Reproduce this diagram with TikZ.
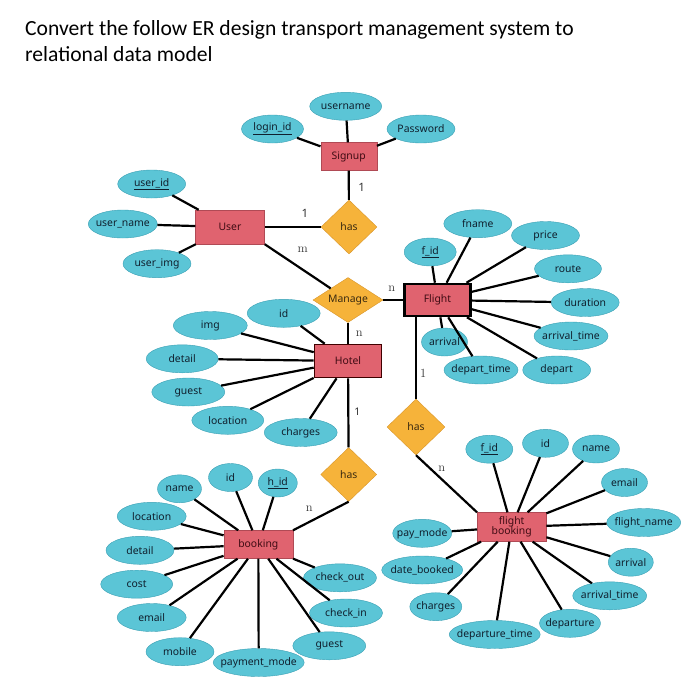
\documentclass[tikz,border=0pt]{standalone}
\usepackage{fontspec}
\usepackage{tikz}
\usetikzlibrary{shapes.geometric}
\newfontfamily\titlefont{Carlito}
\newfontfamily\erfont{Noto Sans}
\definecolor{attrfill}{HTML}{5BC5D6}
\definecolor{attrline}{HTML}{3A9FB3}
\definecolor{attrtext}{HTML}{10202E}
\definecolor{entfill}{HTML}{E0636F}
\definecolor{entline}{HTML}{B04A55}
\definecolor{enttext}{HTML}{400C14}
\definecolor{relfill}{HTML}{F6B33A}
\definecolor{relline}{HTML}{D8952A}
\definecolor{reltext}{HTML}{3A2A10}
\begin{document}
\begin{tikzpicture}[x=1pt,y=-1pt]
\tikzstyle{attr} = [draw=attrline, fill=attrfill, ellipse, minimum width=70, minimum height=28, inner xsep=-6pt, inner ysep=0pt, font=\erfont\fontsize{10.4}{12}\selectfont, text=attrtext] % attribute ellipse
\tikzstyle{entity} = [draw=entline, fill=entfill, rectangle, minimum width=69, minimum height=28, inner sep=1pt, font=\erfont\fontsize{10.4}{12}\selectfont, text=enttext] % entity box
\tikzstyle{rel} = [draw=relline, fill=relfill, diamond, aspect=1, minimum width=56, minimum height=54, inner sep=0pt, font=\erfont\fontsize{10.4}{12}\selectfont, text=reltext] % relationship diamond
\tikzstyle{link} = [line width=2.2pt, color=black] % connector line
\tikzstyle{card} = [inner sep=0pt, font=\fontsize{12.5}{14}\selectfont, text=black!80] % cardinality (serif)
\tikzstyle{cardsf} = [inner sep=0pt, font=\erfont\fontsize{11.5}{13}\selectfont, text=black!80] % cardinality (sans)
\useasboundingbox (0,0) rectangle (700,699);
% title
\node(title1)[anchor=base west, inner sep=0pt, font=\titlefont\fontsize{21.6}{25}\selectfont] at (25,35){Convert the follow ER design transport management system to};
\node(title2)[anchor=base west, inner sep=0pt, font=\titlefont\fontsize{21.6}{25}\selectfont] at (25,61){relational data model};
% entities and relationships
\node(signup)[entity, minimum width=56] at (348.7,156.5){Signup};
\node(user)[entity, minimum height=34] at (230,227){User};
\node(flight)[entity, draw=black, line width=2.6pt, minimum width=66, minimum height=32] at (437.5,300){Flight};
\node(hotel)[entity, draw=black!75!red, line width=1.6pt, minimum width=67, minimum height=33] at (348,361){Hotel};
\node(booking)[entity] at (258.3,544.5){booking};
\node(fbook)[entity, minimum height=29, inner sep=0pt, align=center] at (511.7,527){flight\\[-1.5pt]booking};
\node(hassignup)[rel] at (349,227){has};
\node(manage)[rel, aspect=1.6, minimum width=70, minimum height=45] at (348,300){Manage};
\node(hashotel)[rel] at (348.7,474.5){has};
\node(hasflight)[rel, minimum width=58, minimum height=56] at (416,427){has};
% Signup attributes
\node(username)[attr, minimum width=72] at (345.7,106.3){username};
\node(loginid)[attr, minimum width=62] at (272.5,129){\underline{login\_id}};
\node(password)[attr, minimum width=68] at (421,129){Password};
% User attributes
\node(userid)[attr, minimum width=68] at (151.7,184){\underline{user\_id}};
\node(username2)[attr, minimum width=69] at (122.8,224){user\_name};
\node(userimg)[attr, minimum width=68] at (157,263.7){user\_img};
% Flight attributes
\node(fname)[attr, minimum width=68] at (477.8,223.7){fname};
\node(price)[attr, minimum width=68] at (545.5,235.5){price};
\node(fid)[attr, minimum width=52] at (430.2,252){\underline{f\_id}};
\node(route)[attr, minimum width=67] at (568,268.8){route};
\node(duration)[attr, minimum width=68] at (585.2,302.5){duration};
\node(arrtime)[attr, minimum width=74] at (571,336){arrival\_time};
\node(arrival)[attr, minimum width=46] at (444.5,342){arrival};
\node(departtime)[attr, minimum width=74] at (481,370){depart\_time};
\node(depart)[attr, minimum width=68] at (556.7,370){depart};
% Hotel attributes
\node(hid)[attr, minimum width=73] at (283.7,313.3){id};
\node(himg)[attr, minimum width=74] at (210.3,325.5){img};
\node(hdetail)[attr, minimum width=72] at (182.2,358.8){detail};
\node(hguest)[attr, minimum width=73] at (188.3,392){guest};
\node(hlocation)[attr, minimum width=72] at (227.8,420.3){location};
\node(hcharges)[attr, minimum width=73] at (300.7,432.5){charges};
% booking attributes
\node(bname)[attr, minimum width=44] at (179.5,488.8){name};
\node(bid)[attr, minimum width=44] at (230.5,477.5){id};
\node(bhid)[attr, minimum width=39] at (277.8,483){\underline{h\_id}};
\node(blocation)[attr, minimum width=69] at (151.7,516.3){location};
\node(bdetail)[attr, minimum width=68] at (140,550.3){detail};
\node(bcost)[attr, minimum width=72] at (136.7,584.2){cost};
\node(bcheckout)[attr, minimum width=73] at (340,577.8){check\_out};
\node(bemail)[attr, minimum width=69] at (151.7,617.5){email};
\node(bcheckin)[attr, minimum width=73] at (346,613){check\_in};
\node(bmobile)[attr, minimum width=68] at (180,651.7){mobile};
\node(bpayment)[attr, minimum width=91] at (258.7,662.5){payment\_mode};
\node(bguest)[attr, minimum width=73] at (329.3,645.8){guest};
% flight booking attributes
\node(ffid)[attr, minimum width=47] at (489.3,449.2){\underline{f\_id}};
\node(fbid)[attr, minimum width=46] at (545.5,443.3){id};
\node(fbname)[attr, minimum width=47] at (596,449){name};
\node(fbemail)[attr, minimum width=46] at (624.5,482.5){email};
\node(fbflightname)[attr, minimum width=74] at (643.7,522.5){flight\_name};
\node(fbpaymode)[attr, minimum width=59] at (422.2,533.3){pay\_mode};
\node(fbarrival)[attr, minimum width=45] at (630.8,562.2){arrival};
\node(fbdate)[attr, minimum width=81] at (422.2,570){date\_booked};
\node(fbarrtime)[attr, minimum width=74] at (609.7,595.8){arrival\_time};
\node(fbcharges)[attr, minimum width=52] at (435.8,606.7){charges};
\node(fbdeparture)[attr, minimum width=61] at (570,623.3){departure};
\node(fbdeptime)[attr, minimum width=91] at (494.7,634.5){departure\_time};
% relationship connectors
\draw[link](signup)--(hassignup);
\draw[link](user)--(hassignup);
\draw[link](user.south east)--(manage);
\draw[link](manage)--(flight);
\draw[link](manage)--(hotel);
\draw[link](hotel)--(hashotel);
\draw[link](hashotel.south)--(booking.north east);
\draw[link](hasflight.north)--(hasflight.north |- flight.south);
\draw[link](hasflight.south)--(fbook.north west);
% attribute connectors
\foreach \a in {username, loginid, password} \draw[link](\a)--(signup);
\foreach \a in {userid, username2, userimg} \draw[link](\a)--(user);
\foreach \a in {fname, price, fid, route, duration, arrtime, arrival, departtime, depart} \draw[link](\a)--(flight);
\foreach \a in {hid, himg, hdetail, hguest, hlocation, hcharges} \draw[link](\a)--(hotel);
\foreach \a in {bname, bid, bhid, blocation, bdetail, bcost, bcheckout, bemail, bcheckin, bmobile, bpayment, bguest} \draw[link](\a)--(booking);
\foreach \a in {ffid, fbid, fbname, fbemail, fbflightname, fbpaymode, fbarrival, fbdate, fbarrtime, fbcharges, fbdeparture, fbdeptime} \draw[link](\a)--(fbook);
% cardinalities
\node(c1)[cardsf] at (361.7,187.3){1};
\node(c2)[cardsf] at (305,213){1};
\node(c3)[card] at (302.7,250){m};
\node(c4)[card] at (391.7,288.3){n};
\node(c5)[card] at (359.3,333.3){n};
\node(c6)[cardsf, font=\erfont\bfseries\fontsize{10.5}{12}\selectfont] at (357.3,411.7){1};
\node(c7)[card] at (423.3,373.3){1};
\node(c8)[card] at (441.7,468.3){n};
\node(c9)[card] at (309.3,508.3){n};
\end{tikzpicture}
\end{document}
